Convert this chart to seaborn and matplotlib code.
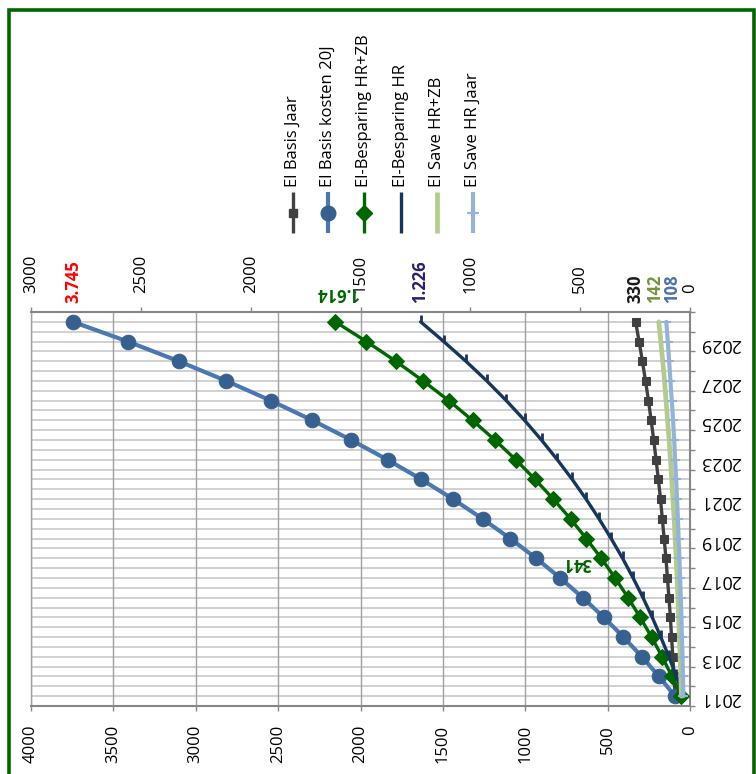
import numpy as np
import pandas as pd
import matplotlib
matplotlib.use('Agg')
import matplotlib.pyplot as plt
from matplotlib.lines import Line2D
from matplotlib.patches import Rectangle
import seaborn as sns

#---------------------------------------------------------
f_out='out.png'

years=list(range(2011, 2031))
year_lbl=[str(y) for y in years[:-1:2]]

basis_jaar=[91, 97, 104, 112, 119, 128, 137, 146, 157, 168, 179, 192, 206, 220, 236, 252, 270, 289, 309, 330]
basis_20j=[91, 188, 292, 404, 523, 651, 788, 934, 1091, 1259, 1438, 1630, 1836, 2056, 2292, 2544, 2814, 3103, 3412, 3745]
besp_hrzb=[39, 82, 127, 175, 227, 282, 341, 404, 472, 544, 622, 705, 793, 888, 990, 1098, 1215, 1339, 1473, 1614]
besp_hr=[30, 62, 96, 133, 172, 214, 259, 307, 359, 414, 473, 536, 604, 676, 753, 836, 925, 1020, 1121, 1226]
save_hrzb=[39, 42, 45, 48, 52, 55, 59, 63, 68, 72, 78, 83, 89, 95, 102, 109, 116, 124, 133, 142]
save_hr=[30, 32, 34, 37, 39, 42, 45, 48, 52, 55, 59, 63, 68, 72, 77, 83, 89, 95, 101, 108]

names=['El Basis Jaar', 'El Basis kosten 20J', 'El-Besparing HR+ZB', 'El-Besparing HR', 'El Save HR+ZB', 'El Save HR Jaar']

#---------------------------------------------------------
df=pd.DataFrame({'year': years, 'basis_jaar': basis_jaar, 'basis_20j': basis_20j,
	'besp_hrzb': besp_hrzb, 'besp_hr': besp_hr, 'save_hrzb': save_hrzb, 'save_hr': save_hr})
df['pos']=np.arange(len(df))

def lbl(v):
	return f'{v:,}'.replace(',', '.')

W, H=756, 774
def fx(px): return px/W
def fy(py): return 1-py/H

#--------------------------------------------------------
sns.set_style('ticks')
plt.rcParams['font.family']=['Open Sans', 'DejaVu Sans']

c_grey='#404040'
c_blue_l='#4A78B2'
c_blue_m='#36608F'
c_green='#006600'
c_navy='#17365D'
c_lgreen='#B3CC8C'
c_lblue='#95B3D7'
c_axis='#868686'
mk_tick=[(0, 0), (0, 1)]

fig=plt.figure(figsize=(W/100, H/100), dpi=100)
ax=fig.add_axes([fx(31), fy(706), (690-31)/W, (706-312)/H])
ax2=ax.twiny()

#grid
for v in np.arange(-0.5, len(years), 0.5):
	ax.axhline(v, color='#C8C8C8', lw=1.2, zorder=0)
ax.set_xlim(4000, 0)
ax.set_xticks(range(0, 4001, 500))
ax.grid(axis='x', color='#A0A0A0', lw=1.0)
ax.set_axisbelow(True)
ax2.set_xlim(3000, 0)
ax2.set_xticks(range(0, 3001, 500))
ax.set_ylim(-0.5, len(years)-0.5)

#primary
sns.lineplot(data=df, x='basis_jaar', y='pos', ax=ax, orient='y', color=c_grey, lw=2.4,
	marker='s', markersize=6.3, markeredgecolor=c_grey, markerfacecolor=c_grey, legend=False)
sns.lineplot(data=df, x='basis_20j', y='pos', ax=ax, orient='y', color=c_blue_l, lw=3,
	marker='o', markersize=10.5, markeredgecolor=c_blue_m, markerfacecolor=c_blue_m, legend=False)
#secondary
sns.lineplot(data=df, x='besp_hrzb', y='pos', ax=ax2, orient='y', color=c_green, lw=2.4,
	marker='D', markersize=8.3, markeredgecolor=c_green, markerfacecolor=c_green, legend=False)
sns.lineplot(data=df, x='besp_hr', y='pos', ax=ax2, orient='y', color=c_navy, lw=2.4,
	marker=mk_tick, markersize=10, markeredgecolor=c_navy, markeredgewidth=2, legend=False)
sns.lineplot(data=df, x='save_hrzb', y='pos', ax=ax2, orient='y', color=c_lgreen, lw=3.4, legend=False)
sns.lineplot(data=df, x='save_hr', y='pos', ax=ax2, orient='y', color=c_lblue, lw=3,
	marker='_', markersize=6.5, markeredgecolor=c_lblue, markeredgewidth=1.5, legend=False)

#axes
ax.set_xlabel('')
ax.set_ylabel('')
ax2.set_xlabel('')
ax2.set_ylabel('')
ax.tick_params(axis='x', which='major', direction='out', length=3.6, width=1, color=c_axis,
	pad=10, labelsize=12, labelrotation=90, labelcolor='black', top=False, bottom=True)
ax2.tick_params(axis='x', which='major', direction='out', length=3.6, width=1, color=c_axis,
	pad=10, labelsize=12, labelrotation=90, labelcolor='black', top=True, bottom=False)
ax.yaxis.tick_right()
ax.set_yticks(df['pos'][:-1:2])
ax.set_yticklabels(year_lbl, rotation=180)
ax.set_yticks(np.arange(-0.5, len(years), 1), minor=True)
ax.tick_params(axis='y', which='major', length=0, pad=7, labelsize=13, labelcolor='black')
ax.tick_params(axis='y', which='minor', direction='out', length=3.6, width=1, color=c_axis, right=True, left=False)

ax.spines['top'].set_visible(False)
ax.spines['left'].set_color('#A0A0A0')
ax.spines['left'].set_linewidth(1.0)
for s in ['bottom', 'right']:
	ax.spines[s].set_color(c_axis)
	ax.spines[s].set_linewidth(1.5)
for s in ['bottom', 'left', 'right']:
	ax2.spines[s].set_visible(False)
ax2.spines['top'].set_visible(True)
ax2.spines['top'].set_color(c_axis)
ax2.spines['top'].set_linewidth(1.5)

#data labels
top=dict(xycoords=('data', 'axes fraction'), textcoords='offset points', rotation=90,
	ha='center', va='bottom', weight='bold', fontsize=12)
ax.annotate(lbl(basis_20j[-1]), xy=(basis_20j[-1], 1), xytext=(0, 6.5), color='red', **top)
ax.annotate(lbl(basis_jaar[-1]), xy=(basis_jaar[-1], 1), xytext=(0, 6.5), color='#1A1A1A', **top)
ax2.annotate(lbl(besp_hr[-1]), xy=(besp_hr[-1], 1), xytext=(-0.5, 6.5), color='#2A1F6E', **top)
ax2.annotate(lbl(save_hrzb[-1]), xy=(save_hrzb[-1], 1), xytext=(-2.5, 6.5), color='#77933C', **top)
ax2.annotate(lbl(save_hr[-1]), xy=(save_hr[-1], 1), xytext=(4, 6.5), color='#4F6FAF', **top)
ax2.annotate(lbl(besp_hrzb[-1]), xy=(besp_hrzb[-1], 1), xycoords=('data', 'axes fraction'),
	xytext=(1.5, 13.5), textcoords='offset points', rotation=180, ha='center', va='center',
	weight='bold', fontsize=12, color=c_green)
ax2.annotate(lbl(besp_hrzb[6]), xy=(besp_hrzb[6], df['pos'][6]),
	xytext=(-27, 11), textcoords='offset points', rotation=180, ha='center', va='center',
	weight='bold', fontsize=12, color=c_green)

#legend (rotated)
leg_x=[293, 328, 364, 401, 437, 473]
leg_sty=[
	dict(color=c_grey, lw=2.4, marker='s', ms=6.3, mfc=c_grey, mec=c_grey),
	dict(color=c_blue_l, lw=3, marker='o', ms=10.5, mfc=c_blue_m, mec=c_blue_m),
	dict(color=c_green, lw=2.4, marker='D', ms=8.3, mfc=c_green, mec=c_green),
	dict(color=c_navy, lw=2.4),
	dict(color=c_lgreen, lw=3.4),
	dict(color=c_lblue, lw=3, marker='_', ms=8, mec=c_lblue, mew=1.5),
]
for x, name, sty in zip(leg_x, names, leg_sty):
	ln=Line2D([fx(x)]*3, [fy(192), fy(212.5), fy(233)], transform=fig.transFigure,
		markevery=[1], solid_capstyle='butt', **sty)
	fig.add_artist(ln)
	fig.text(fx(x), fy(187), name, rotation=90, ha='center', va='bottom', fontsize=12, color='black')

#frame
fig.add_artist(Rectangle((fx(9), -0.05), fx(754)-fx(9), fy(10)+0.05, transform=fig.transFigure,
	fill=False, ec='#006600', lw=2.6))

#save
plt.savefig(f_out, dpi=100)
plt.close()
